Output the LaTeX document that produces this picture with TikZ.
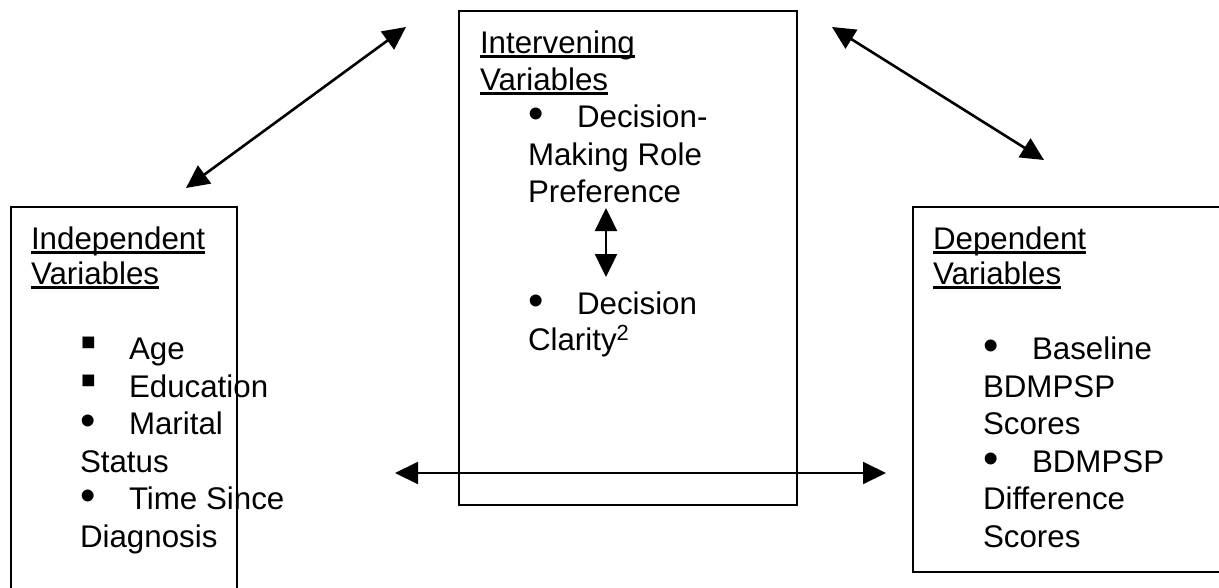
\documentclass[tikz,border=0pt]{standalone}
\usepackage{fontspec}
\setmainfont{Liberation Sans}
\usetikzlibrary{arrows.meta}
\newcommand\myul[1]{\setbox0\hbox{#1}\rlap{\rule[-4.5pt]{\wd0}{2.2pt}}\box0}
\newcommand\bul[1]{\makebox[49pt][l]{#1}}
\newcommand\rbul{\smash{\raisebox{-1.5pt}{\scalebox{1.4}{•}}}}
\newcommand\sbul{\smash{\raisebox{2pt}{\scalebox{1.5}{▪}}}}
\tikzset{
  box/.style={draw, line width=1.6pt, anchor=north west, inner sep=0pt, outer sep=0pt},
  ln/.style={anchor=base west, inner sep=0pt, outer sep=0pt, font=\fontsize{31.3pt}{37pt}\selectfont},
  dblarrow/.style={{Triangle[length=23pt,width=22pt]}-{Triangle[length=23pt,width=22pt]}, line width=2.6pt},
}
\begin{document}
\begin{tikzpicture}[x=1pt,y=-1pt]
\useasboundingbox[fill=white] (0,0) rectangle (1219,587);
% boxes
\node[box, minimum width=226pt, minimum height=400pt] (indep) at (11,207) {};
\node[box, minimum width=338pt, minimum height=494pt] (interv) at (459,11) {};
\node[box, minimum width=330pt, minimum height=365pt] (dep) at (913,207) {};
% left box text
\node[ln] (i1) at (31,249) {\myul{Independent}};
\node[ln] (i2) at (31,284) {\myul{Variables}};
\node[ln] (i3) at (80,359) {\bul{\sbul}Age};
\node[ln] (i4) at (80,397) {\bul{\sbul}Education};
\node[ln] (i5) at (80,434) {\bul{\rbul}Marital};
\node[ln] (i6) at (80,472) {Status};
\node[ln] (i7) at (80,509) {\bul{\rbul}Time Since};
\node[ln] (i8) at (80,547) {Diagnosis};
% middle box text
\node[ln] (m1) at (480,53) {\myul{Intervening}};
\node[ln] (m2) at (480,90) {\myul{Variables}};
\node[ln] (m3) at (528,127) {\bul{\rbul}Decision-};
\node[ln] (m4) at (528,165) {Making Role};
\node[ln] (m5) at (528,202) {Preference};
\node[ln] (m6) at (528,314) {\bul{\rbul}Decision};
\node[ln] (m7) at (528,350) {Clarity\textsuperscript{2}};
% right box text
\node[ln] (d1) at (933,249) {\myul{Dependent}};
\node[ln] (d2) at (933,284) {\myul{Variables}};
\node[ln] (d3) at (983,359) {\bul{\rbul}Baseline};
\node[ln] (d4) at (983,397) {BDMPSP};
\node[ln] (d5) at (983,434) {Scores};
\node[ln] (d6) at (983,472) {\bul{\rbul}BDMPSP};
\node[ln] (d7) at (983,509) {Difference};
\node[ln] (d8) at (983,547) {Scores};
% arrow end points
\coordinate (a1) at (186,188);
\coordinate (a2) at (406,27);
\coordinate (b1) at (832,27);
\coordinate (b2) at (1044,160);
\coordinate (c1) at (395,473);
\coordinate (c2) at (886,473);
\coordinate (v1) at (606,208);
\coordinate (v2) at (606,277);
\draw[dblarrow] (a1) -- (a2);
\draw[dblarrow] (b1) -- (b2);
\draw[dblarrow, line width=2pt] (c1) -- (c2);
\draw[dblarrow, line width=2.4pt] (v1) -- (v2);
\end{tikzpicture}
\end{document}
